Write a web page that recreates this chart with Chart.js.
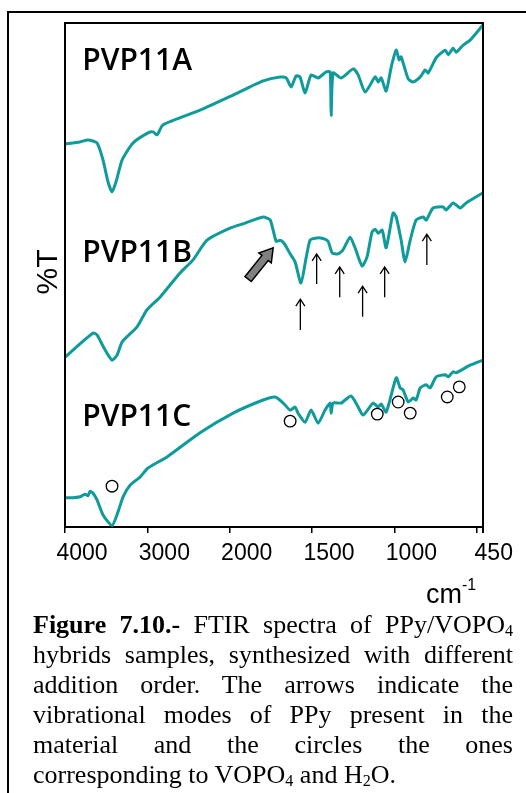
<!DOCTYPE html>
<html>
<head>
<meta charset="utf-8">
<script src="https://cdn.jsdelivr.net/npm/chart.js@4.4.1/dist/chart.umd.min.js"></script>
<style>
  body { margin: 0; background: #fff; }
  #page { position: relative; width: 526px; height: 793px; overflow: hidden; background: #fff; }
  #frame { position: absolute; left: 7px; top: 11px; width: 700px; height: 900px; border-left: 2px solid #000; border-top: 2px solid #000; }
  #wrap { position: absolute; left: 0; top: 0; }
  #caption { position: absolute; left: 33px; top: 610px; width: 480px; font-family: 'Liberation Serif', 'Times New Roman', serif; font-size: 26px; color: #000; }
  #caption div { height: 30px; line-height: 30px; text-align: justify; text-align-last: justify; }
  #caption div.last { text-align-last: left; }
  #caption sub { font-size: 0.62em; line-height: 0; vertical-align: -0.2em; }
</style>
</head>
<body>
<div id="page">
  <div id="frame"></div>
  <div id="wrap"><canvas id="c" width="526" height="615"></canvas></div>
  <div id="caption">
    <div><b>Figure 7.10.-</b> FTIR spectra of PPy/VOPO<sub>4</sub></div>
    <div>hybrids samples, synthesized with different</div>
    <div>addition order. The arrows indicate the</div>
    <div>vibrational modes of PPy present in the</div>
    <div>material and the circles the ones</div>
    <div class="last">corresponding to VOPO<sub>4</sub> and H<sub>2</sub>O.</div>
  </div>
</div>
<script>
// spectra: wavenumber (cm-1) and %T (arbitrary, offset per sample)
const wnA = [4000,3818,3721,3611,3538,3478,3429,3380,3307,3174,2992,2931,2882,2809,2360,1979,1797,1694,1657,1627,1597,1573,1542,1506,1463,1414,1390,1384,1372,1323,1250,1220,1177,1117,1098,1080,1050,1019,989,971,959,916,886,843,813,795,746,691,673,643,625,582,540,462];
const tA = [76.0,76.4,76.8,76.2,72.8,68.5,66.5,68.5,72.8,76.2,78.2,78.4,77.8,79.8,82.7,85.7,88.5,89.3,89.1,87.3,89.5,89.3,86.1,89.7,89.1,90.3,90.3,81.7,90.1,89.1,90.9,89.7,86.3,89.3,88.3,89.1,86.5,91.3,94.6,92.7,93.3,88.9,88.3,89.3,90.7,90.1,93.1,94.6,93.7,95.0,94.2,95.6,96.6,99.6];

const wnB = [4000,3660,3611,3526,3429,3368,3307,3125,3004,2846,2603,2445,2275,1998,1906,1797,1754,1718,1694,1670,1633,1603,1567,1536,1512,1481,1439,1403,1378,1342,1312,1269,1239,1196,1166,1136,1117,1099,1074,1050,1008,989,959,935,904,868,825,807,765,704,686,643,601,564,462];
const tB = [33.7,38.5,38.1,35.5,33.1,34.1,36.7,39.7,43.1,45.6,50.4,53.0,56.9,59.3,60.3,61.5,60.9,56.7,56.9,56.3,54.2,52.6,48.4,53.4,56.9,57.3,57.3,56.7,54.4,54.2,55.0,57.5,55.4,51.8,53.6,58.5,59.1,58.3,58.9,55.4,62.3,61.5,56.9,52.6,56.9,60.9,61.5,60.9,63.3,63.5,62.9,64.3,63.3,64.3,66.3];

const wnC = [4000,3903,3818,3757,3721,3696,3660,3611,3538,3429,3356,3295,3210,3089,2992,2761,2360,1979,1797,1724,1675,1633,1603,1585,1542,1506,1463,1421,1390,1384,1372,1323,1263,1220,1190,1129,1099,1080,1050,989,965,947,916,886,868,843,807,783,746,691,673,643,625,540,462];
const tC = [5.8,5.8,6.0,6.5,6.2,7.1,6.7,5.4,2.4,0.3,3.0,6.0,8.3,9.9,11.7,13.9,18.7,22.6,25.2,25.8,24.6,23.2,23.8,22.6,20.8,23.2,20.6,23.2,24.6,22.6,24.6,24.6,26.0,23.8,22.2,24.6,23.8,24.4,22.8,29.6,27.6,27.2,24.8,25.6,25.2,27.6,28.2,27.6,29.8,30.2,29.8,30.8,30.6,32.1,33.1];

// VOPO4 / H2O bands (circles) and PPy modes (arrows)
const circleWn = [3429,1633,1104,977,904,679,606];
const circleT = [8.1,21.0,22.4,24.8,22.6,25.8,27.8];
const arrowWn = [1571,1472,1332,1193,1059,803];
const arrowTip = [45.2,54.2,51.6,47.8,51.6,58.1];
const arrowBase = [39.1,48.2,45.6,41.7,45.6,52.0];
const grayArrowWn = [1888, 1736];
const grayArrowT = [49.2, 55.4];

const sampleNames = ['PVP11A', 'PVP11B', 'PVP11C'];
const tickWn = [4000, 3000, 2000, 1500, 1000, 500];
const tickLabels = ['4000', '3000', '2000', '1500', '1000', '450'];
const wnEnd = 462;

// axis is expanded x2 below 2000 cm-1
function wnToPos(wn) {
  return wn >= 2000 ? (4000 - wn) / 1000 : 2 + (2000 - wn) / 500;
}
function toPoints(wn, t) {
  return wn.map((w, i) => ({ x: wnToPos(w), y: t[i] }));
}

const teal = '#0f9b9b';
const nameX = 3790;
const nameT = [90.7, 52.6, 20.0];

const overlay = {
  id: 'overlay',
  afterDatasetsDraw(chart) {
    const { ctx, scales: { x, y } } = chart;
    ctx.save();
    ctx.strokeStyle = '#000';
    ctx.lineWidth = 1.3;
    arrowWn.forEach((wn, i) => {
      const px = x.getPixelForValue(wnToPos(wn));
      const tip = y.getPixelForValue(arrowTip[i]);
      const base = y.getPixelForValue(arrowBase[i]);
      ctx.beginPath();
      ctx.moveTo(px, base);
      ctx.lineTo(px, tip);
      ctx.moveTo(px - 4.5, tip + 7);
      ctx.lineTo(px, tip);
      ctx.lineTo(px + 4.5, tip + 7);
      ctx.stroke();
    });

    // gray block arrow
    const x0 = x.getPixelForValue(wnToPos(grayArrowWn[0]));
    const y0 = y.getPixelForValue(grayArrowT[0]);
    const x1 = x.getPixelForValue(wnToPos(grayArrowWn[1]));
    const y1 = y.getPixelForValue(grayArrowT[1]);
    const len = Math.hypot(x1 - x0, y1 - y0);
    ctx.translate(x0, y0);
    ctx.rotate(Math.atan2(y1 - y0, x1 - x0));
    const hl = 13, sw = 4, hw = 8;
    ctx.beginPath();
    ctx.moveTo(0, -sw);
    ctx.lineTo(len - hl, -sw);
    ctx.lineTo(len - hl, -hw);
    ctx.lineTo(len, 0);
    ctx.lineTo(len - hl, hw);
    ctx.lineTo(len - hl, sw);
    ctx.lineTo(0, sw);
    ctx.closePath();
    ctx.fillStyle = '#808080';
    ctx.fill();
    ctx.lineWidth = 1.5;
    ctx.stroke();
    ctx.restore();
  },
  afterDraw(chart) {
    const { ctx, chartArea: a, scales: { x, y } } = chart;
    ctx.save();
    ctx.strokeStyle = '#000';
    ctx.lineWidth = 2;
    ctx.beginPath();
    ctx.moveTo(a.left, a.bottom);
    ctx.lineTo(a.left, a.top);
    ctx.lineTo(a.right, a.top);
    ctx.lineTo(a.right, a.bottom + 6);
    ctx.stroke();

    ctx.fillStyle = '#000';
    ctx.font = '600 30px "Open Sans", sans-serif';
    ctx.textAlign = 'left';
    ctx.textBaseline = 'alphabetic';
    sampleNames.forEach((n, i) => {
      ctx.fillText(n, x.getPixelForValue(wnToPos(nameX)), y.getPixelForValue(nameT[i]));
    });

    // y title
    ctx.save();
    ctx.translate(49, 272);
    ctx.rotate(-Math.PI / 2);
    ctx.font = '30px "Liberation Sans Narrow", "Liberation Sans", sans-serif';
    ctx.textAlign = 'center';
    ctx.textBaseline = 'middle';
    ctx.fillText('%T', 0, 0);
    ctx.restore();

    // x unit
    ctx.font = '27px "Liberation Sans", Arial, sans-serif';
    ctx.textAlign = 'left';
    ctx.fillText('cm', 426, 603);
    ctx.font = '16px "Liberation Sans", Arial, sans-serif';
    ctx.fillText('-1', 462, 590);
    ctx.restore();
  }
};

new Chart(document.getElementById('c'), {
  type: 'line',
  data: {
    datasets: [
      {
        type: 'scatter',
        data: toPoints(circleWn, circleT),
        showLine: false,
        pointStyle: 'circle',
        pointRadius: 5.8,
        pointBackgroundColor: '#fff',
        pointBorderColor: '#000',
        pointBorderWidth: 1.3,
        order: 0
      },
      { data: toPoints(wnA, tA), order: 1 },
      { data: toPoints(wnB, tB), order: 1 },
      { data: toPoints(wnC, tC), order: 1 }
    ].map(d => d.type ? d : Object.assign(d, {
      borderColor: teal,
      borderWidth: 3,
      pointRadius: 0,
      fill: false,
      tension: 0.2,
      borderJoinStyle: 'round',
      borderCapStyle: 'round'
    }))
  },
  options: {
    responsive: false,
    animation: false,
    events: [],
    layout: { padding: { left: 65, right: 43, top: 23, bottom: 0 } },
    plugins: { legend: { display: false }, tooltip: { enabled: false } },
    scales: {
      x: {
        type: 'linear',
        min: 0,
        max: wnToPos(wnEnd),
        afterBuildTicks: s => {
          s.ticks = tickWn.map(w => ({ value: wnToPos(w) })).concat([{ value: wnToPos(wnEnd) }]);
        },
        afterFit: s => { s.height = 88; },
        border: { display: true, color: '#000', width: 2 },
        grid: { display: true, drawOnChartArea: false, drawTicks: true, tickLength: 6, color: '#000', lineWidth: 1.5 },
        ticks: {
          autoSkip: false,
          maxRotation: 0,
          labelOffset: 17,
          padding: 7,
          color: '#000',
          font: { family: '"Liberation Sans", Arial, sans-serif', size: 23 },
          callback: (v, i) => tickLabels[i] ?? ''
        }
      },
      y: { display: false, min: 0, max: 100 }
    }
  },
  plugins: [overlay]
});
</script>
</body>
</html>
